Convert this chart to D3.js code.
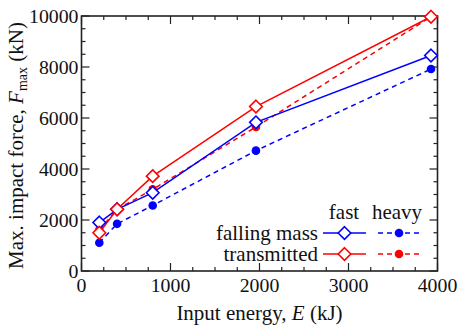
<!DOCTYPE html>
<html>
<head>
<meta charset="utf-8">
<script src="https://cdn.jsdelivr.net/npm/d3@7"></script>
<style>
  html, body { margin: 0; padding: 0; background: #fff; }
  svg text { font-family: "Liberation Serif", "Times New Roman", Times, "DejaVu Serif", serif; }
</style>
</head>
<body>
<svg id="chart" width="462" height="329"></svg>
<script>
// Input energy (kJ) for each test case
const energy = [200, 400, 800, 1960, 3927];

// Maximum impact force (kN)
const fastFalling = [1900, 2420, 3070, 5830, 8450];
const fastTransmitted = [1500, 2420, 3720, 6450, 9970];
const heavyFalling = [1110, 1850, 2570, 4720, 7920];
const heavyTransmitted = [1620, 2420, 3200, 5650, 9970];

const xTicks = [0, 1000, 2000, 3000, 4000];
const yTicks = [0, 2000, 4000, 6000, 8000, 10000];

const BLUE = "#0000ff", RED = "#ff0000";
const FONT = "Liberation Serif, Times New Roman, serif";

const svg = d3.select("#chart").attr("font-family", FONT);
const margin = { left: 81.5, right: 462 - 437.5, top: 16, bottom: 329 - 271 };
const W = 462, H = 329;

const x = d3.scaleLinear().domain([0, 4000]).range([margin.left, W - margin.right]);
const y = d3.scaleLinear().domain([0, 10000]).range([H - margin.bottom, margin.top]);

const gAxes = svg.append("g");
const axisColor = "#222";

// Inward ticks on all four sides: minor every 250 kJ / 500 kN
function drawTicks() {
  const xMinor = d3.range(0, 4001, 250);
  const yMinor = d3.range(0, 10001, 500);
  xMinor.forEach(v => {
    const major = v % 1000 === 0;
    const L = major ? 8 : 4;
    [[y.range()[0], -1], [y.range()[1], 1]].forEach(([yy, dir]) => {
      gAxes.append("line").attr("x1", x(v)).attr("x2", x(v))
        .attr("y1", yy).attr("y2", yy + dir * L)
        .attr("stroke", axisColor).attr("stroke-width", 1.2);
    });
  });
  yMinor.forEach(v => {
    const major = v % 2000 === 0;
    const L = major ? 8 : 4;
    [[x.range()[0], 1], [x.range()[1], -1]].forEach(([xx, dir]) => {
      gAxes.append("line").attr("y1", y(v)).attr("y2", y(v))
        .attr("x1", xx).attr("x2", xx + dir * L)
        .attr("stroke", axisColor).attr("stroke-width", 1.2);
    });
  });
}
drawTicks();

// Frame
gAxes.append("rect")
  .attr("x", x(0)).attr("y", y(10000))
  .attr("width", x(4000) - x(0)).attr("height", y(0) - y(10000))
  .attr("fill", "none").attr("stroke", axisColor).attr("stroke-width", 1.6);

// Tick labels
const fsTick = 19.8;
const fs = 21;
svg.append("g").selectAll("text").data(xTicks).join("text")
  .attr("x", d => x(d)).attr("y", y(0) + 20.5)
  .attr("text-anchor", "middle").attr("font-size", fsTick).attr("fill", "#111")
  .text(d => d);
svg.append("g").selectAll("text").data(yTicks).join("text")
  .attr("x", x(0) - 3).attr("y", d => y(d) + 6.5)
  .attr("text-anchor", "end").attr("font-size", fsTick).attr("fill", "#111")
  .text(d => d);

// Axis titles
const xt = svg.append("text").attr("x", (x(0) + x(4000)) / 2).attr("y", 320)
  .attr("text-anchor", "middle").attr("font-size", fs).attr("fill", "#111");
xt.append("tspan").text("Input energy, ");
xt.append("tspan").attr("font-style", "italic").text("E");
xt.append("tspan").text(" (kJ)");

const yt = svg.append("text")
  .attr("transform", `translate(22.5,${(y(0) + y(10000)) / 2 + 2}) rotate(-90)`)
  .attr("text-anchor", "middle").attr("font-size", fs).attr("fill", "#111");
yt.append("tspan").text("Max. impact force, ");
yt.append("tspan").attr("font-style", "italic").text("F");
yt.append("tspan").attr("font-size", 14).attr("dy", 4).text("max");
yt.append("tspan").attr("dy", -4).text(" (kN)");

// Series
const series = [
  { vals: heavyFalling, color: BLUE, dash: "5,4", marker: "dot" },
  { vals: heavyTransmitted, color: RED, dash: "5,4", marker: "dot" },
  { vals: fastFalling, color: BLUE, dash: null, marker: "diamond" },
  { vals: fastTransmitted, color: RED, dash: null, marker: "diamond" },
];

const line = d3.line().x(d => x(d[0])).y(d => y(d[1]));

function drawMarker(g, cx, cy, s) {
  if (s.marker === "dot") {
    g.append("circle").attr("cx", cx).attr("cy", cy).attr("r", 4.3).attr("fill", s.color);
  } else {
    const r = 6.3;
    g.append("path")
      .attr("d", `M${cx},${cy - r}L${cx + r},${cy}L${cx},${cy + r}L${cx - r},${cy}Z`)
      .attr("fill", "#fff").attr("stroke", s.color).attr("stroke-width", 1.6);
  }
}

const gData = svg.append("g");
series.forEach(s => {
  const pts = energy.map((e, i) => [e, s.vals[i]]);
  gData.append("path").attr("d", line(pts)).attr("fill", "none")
    .attr("stroke", s.color).attr("stroke-width", 1.5)
    .attr("stroke-dasharray", s.dash);
});
series.forEach(s => {
  energy.forEach((e, i) => drawMarker(gData, x(e), y(s.vals[i]), s));
});

// Legend
const gLeg = svg.append("g");
gLeg.append("text").attr("x", 344).attr("y", 219).attr("text-anchor", "middle")
  .attr("font-size", fs).attr("fill", "#111").text("fast");
gLeg.append("text").attr("x", 397).attr("y", 219).attr("text-anchor", "middle")
  .attr("font-size", fs).attr("fill", "#111").text("heavy");
const rows = [
  { label: "falling mass", color: BLUE, yy: 233 },
  { label: "transmitted", color: RED, yy: 254 },
];
rows.forEach(r => {
  gLeg.append("text").attr("x", 318).attr("y", r.yy + 6.5).attr("text-anchor", "end")
    .attr("font-size", fs).attr("fill", "#111").text(r.label);
  gLeg.append("line").attr("x1", 323).attr("x2", 366).attr("y1", r.yy).attr("y2", r.yy)
    .attr("stroke", r.color).attr("stroke-width", 1.5);
  drawMarker(gLeg, 344.5, r.yy, { marker: "diamond", color: r.color });
  gLeg.append("line").attr("x1", 378).attr("x2", 421).attr("y1", r.yy).attr("y2", r.yy)
    .attr("stroke", r.color).attr("stroke-width", 1.5).attr("stroke-dasharray", "5,4");
  drawMarker(gLeg, 399, r.yy, { marker: "dot", color: r.color });
});
</script>
</body>
</html>
